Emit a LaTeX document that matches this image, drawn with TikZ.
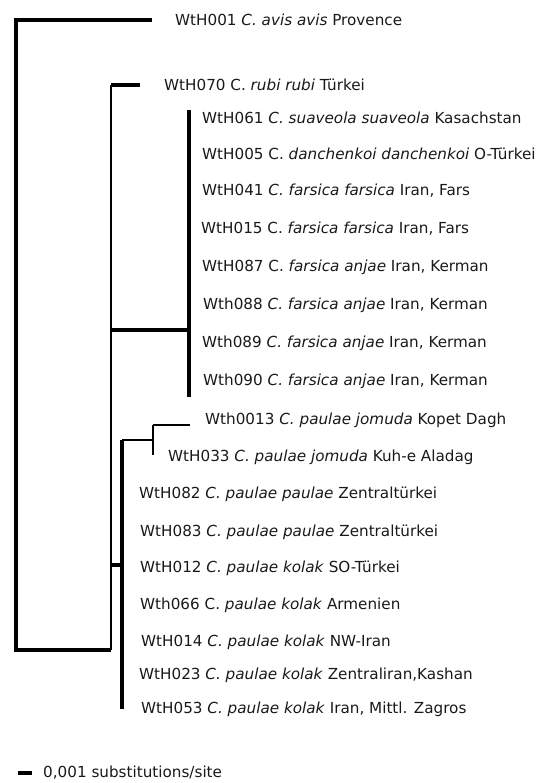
\documentclass[tikz,border=0pt]{standalone}
\usepackage{fontspec}
\setmainfont{DejaVu Sans}
\begin{document}
\begin{tikzpicture}[x=1pt,y=-1pt,
  br/.style={line width=3.5pt},
  thinbr/.style={line width=2.5pt},
  lbl/.style={anchor=west,inner sep=0pt,text=black!90,font=\fontsize{15.2}{17}\selectfont}]
\useasboundingbox (0,0) rectangle (555,783);
% internal coordinates
\coordinate (r) at (16,20);
\coordinate (rb) at (16,650);
\coordinate (a) at (111,650);
\coordinate (at) at (111,85);
\coordinate (am) at (111,330);
\coordinate (ab) at (111,565);
\coordinate (f) at (189,330);
\coordinate (ft) at (189,110);
\coordinate (fb) at (189,397);
\coordinate (p) at (122,565);
\coordinate (pt) at (122,440);
\coordinate (pb) at (122,709);
\coordinate (j) at (153,440);
\coordinate (jt) at (153,425);
\coordinate (jb) at (153,455);
\coordinate (t1) at (152,20);
\coordinate (t70) at (140,85);
\coordinate (t13) at (190,425);
% labels
\node[lbl] (l001) at (175,20) {WtH001 \textit{C. avis avis} Provence};
\node[lbl] (l070) at (164,85) {WtH070 C. \textit{rubi rubi} Türkei};
\node[lbl] (l061) at (202,118) {WtH061 \textit{C. suaveola suaveola} Kasachstan};
\node[lbl] (l005) at (202,154) {WtH005 C. \textit{danchenkoi danchenkoi} O-Türkei};
\node[lbl] (l041) at (202,191) {WtH041 \textit{C. farsica farsica} Iran, Fars};
\node[lbl] (l015) at (201,229) {WtH015 C. \textit{farsica farsica} Iran, Fars};
\node[lbl] (l087) at (202,267) {WtH087 C. \textit{farsica anjae} Iran, Kerman};
\node[lbl] (l088) at (203,305) {Wth088 \textit{C. farsica anjae} Iran, Kerman};
\node[lbl] (l089) at (202,343) {Wth089 \textit{C. farsica anjae} Iran, Kerman};
\node[lbl] (l090) at (203,381) {Wth090 \textit{C. farsica anjae} Iran, Kerman};
\node[lbl] (l013) at (205,420) {Wth0013 \textit{C. paulae jomuda} Kopet Dagh};
\node[lbl] (l033) at (168,457) {WtH033 \textit{C. paulae jomuda} Kuh-e Aladag};
\node[lbl] (l082) at (139,494) {WtH082 \textit{C. paulae paulae} Zentraltürkei};
\node[lbl] (l083) at (140,532) {WtH083 \textit{C. paulae paulae} Zentraltürkei};
\node[lbl] (l012) at (140,568) {WtH012 \textit{C. paulae kolak} SO-Türkei};
\node[lbl] (l066) at (140,605) {Wth066 C. \textit{paulae kolak} Armenien};
\node[lbl] (l014) at (141,642) {WtH014 \textit{C. paulae kolak} NW-Iran};
\node[lbl] (l023) at (139,675) {WtH023 \textit{C. paulae kolak} Zentraliran,Kashan};
\node[lbl] (l053) at (141,709) {WtH053 \textit{C. paulae kolak} Iran, Mittl. Zagros};
% scale bar
\coordinate (s1) at (18,773);
\coordinate (s2) at (32,773);
\node[lbl] (scale) at (43,773) {0,001 substitutions/site};
% tree
\draw[br] (t1) -- (r) -- (rb) -- (a);
\draw[thinbr] (at) -- (a);
\draw[br] (at) -- (t70);
\draw[br] (am) -- (f);
\draw[br] (ft) -- (fb);
\draw[br] (ab) -- (p);
\draw[br] (pt) -- (pb);
\draw[thinbr] (pt) -- (j);
\draw[thinbr] (jt) -- (jb);
\draw[thinbr] (jt) -- (t13);
\draw[br] (s1) -- (s2);
\end{tikzpicture}
\end{document}
